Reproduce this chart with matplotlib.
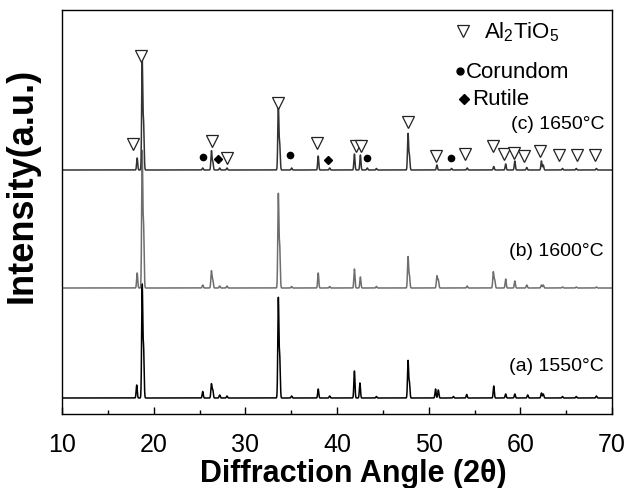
import numpy as np
import matplotlib
matplotlib.use('Agg')
import matplotlib.pyplot as plt

plt.rcParams['font.family'] = ['Liberation Sans', 'DejaVu Sans']
plt.rcParams['mathtext.fontset'] = 'custom'
plt.rcParams['mathtext.rm'] = 'Liberation Sans'
plt.rcParams['mathtext.it'] = 'Liberation Sans:italic'
plt.rcParams['mathtext.bf'] = 'Liberation Sans:bold'

# peak positions (2theta) and heights (a.u.)
pos_a = [18.15, 18.75, 18.9, 25.35, 26.3, 26.45, 27.2, 28.0, 33.6, 33.75,
         35.05, 37.95, 39.2, 41.9, 42.5, 44.3, 47.75, 47.9, 50.75, 51.05,
         52.7, 54.15, 57.1, 58.4, 59.4, 60.8, 62.3, 62.5, 64.6, 66.1, 68.3]
h_a = [13, 112, 48, 6.5, 14, 8, 3, 2, 99, 40,
       2, 9, 2, 27, 15, 1.5, 37, 15, 9, 8,
       1.5, 3.5, 12, 4, 4, 3, 5, 4, 1.5, 1.5, 2]

pos_b = [18.2, 18.75, 18.9, 25.35, 26.3, 26.45, 27.2, 28.0, 33.6, 33.75,
         35.05, 37.95, 39.2, 41.9, 42.55, 44.3, 47.75, 47.9, 50.9, 51.05,
         54.2, 57.05, 57.2, 58.4, 59.4, 60.7, 62.3, 62.5, 64.6, 66.1, 68.3]
h_b = [15, 135, 60, 3, 17, 8, 2, 2, 93, 40,
       1.5, 15, 1.5, 19, 11, 1.5, 31, 12, 12, 8,
       2, 16, 8, 9, 7, 3, 3, 3, 1, 1, 1]

pos_c = [18.2, 18.75, 18.9, 25.35, 26.3, 26.45, 27.2, 28.0, 33.6, 33.75,
         35.05, 37.95, 39.2, 41.9, 42.55, 43.3, 44.3, 47.75, 47.9, 50.9,
         52.5, 54.2, 57.1, 58.4, 59.4, 60.7, 62.3, 62.5, 64.6, 66.1, 68.3]
h_c = [12, 109, 45, 2, 19, 8, 2, 2, 64, 25,
       2, 14, 2, 16, 15, 2, 1.5, 36, 14, 5,
       1.5, 2, 3.5, 6, 9, 2.5, 9, 5, 1.5, 1.5, 1.5]

# phase markers on pattern (c): 2theta and height above its baseline
tri_pos = [17.78, 18.62, 26.4, 27.97, 33.53, 37.85, 42.07, 42.58, 47.78,
           50.83, 54.0, 56.98, 58.18, 59.31, 60.43, 62.18, 64.19, 66.15, 68.18]
tri_h = [26, 114, 29, 12, 67, 27, 24, 24, 48,
         14, 16, 24, 16, 17, 14, 19, 15, 15, 15]
dot_pos = [25.35, 34.87, 43.24, 52.44]
dot_h = [13, 15, 12, 12]
dia_pos = [27.02, 39.02]
dia_h = [11, 10]

labels = ['(a) 1550\u00b0C', '(b) 1600\u00b0C', '(c) 1650\u00b0C']
offsets = [16, 126, 244]
colors = ['#000000', '#6e6e6e', '#333333']


def pattern(x, pos, h, fwhm=0.14):
    s = fwhm / 2.3548
    y = np.zeros_like(x)
    for p, a in zip(pos, h):
        y += a * np.exp(-0.5 * ((x - p) / s) ** 2)
    return y


fig = plt.figure(figsize=(6.25, 4.89), dpi=100)
ax = fig.add_axes([62 / 625, 1 - 415 / 489, 550 / 625, 404 / 489])

x = np.linspace(10, 70, 12001)
for pos, h, off, col in zip([pos_a, pos_b, pos_c], [h_a, h_b, h_c],
                            offsets, colors):
    ax.plot(x, off + pattern(x, pos, h), color=col, lw=1.1)

oc = offsets[2]
ax.plot(tri_pos, [oc + v for v in tri_h], 'v', ms=8, mfc='white',
        mec='#222222', mew=0.9, ls='none')
ax.plot(dot_pos, [oc + v for v in dot_h], 'o', ms=4.5, color='black',
        ls='none')
ax.plot(dia_pos, [oc + v for v in dia_h], 'D', ms=4.5, color='black',
        ls='none')

# legend of phases
ax.plot([0.729], [0.948], 'v', ms=9, mfc='white', mec='#222222', mew=0.9,
        transform=ax.transAxes)
ax.text(0.767, 0.948, r'Al$_2$TiO$_5$', fontsize=16, ha='left',
        va='center', transform=ax.transAxes)
ax.plot([0.7245], [0.849], 'o', ms=5, color='black', transform=ax.transAxes)
ax.text(0.735, 0.849, 'Corundom', fontsize=16, ha='left', va='center',
        transform=ax.transAxes)
ax.plot([0.731], [0.780], 'D', ms=5, color='black', transform=ax.transAxes)
ax.text(0.746, 0.780, 'Rutile', fontsize=16, ha='left', va='center',
        transform=ax.transAxes)

for lab, yy in zip(labels, [0.119, 0.404, 0.720]):
    ax.text(0.9855, yy, lab, fontsize=14, ha='right', va='center',
            transform=ax.transAxes)

ax.set_xlim(10, 70)
ax.set_ylim(0, 404)
ax.set_yticks([])
ax.set_xticks(np.arange(10, 71, 10))
ax.set_xticks(np.arange(15, 70, 10), minor=True)
ax.tick_params(axis='x', which='major', direction='in', length=5, width=1,
               labelsize=18, pad=13)
ax.tick_params(axis='x', which='minor', direction='in', length=3, width=1)
for sp in ax.spines.values():
    sp.set_linewidth(1.0)

ax.set_xlabel('Diffraction Angle (2\u03b8)', fontsize=22, fontweight='bold')
ax.xaxis.set_label_coords(0.530, -0.146)
ax.xaxis.label.set_va('center')
ax.set_ylabel('Intensity(a.u.)', fontsize=26, fontweight='bold')
ax.yaxis.set_label_coords(-0.0727, 0.567)
ax.yaxis.label.set_va('center')

fig.savefig('out.png', dpi=100)
